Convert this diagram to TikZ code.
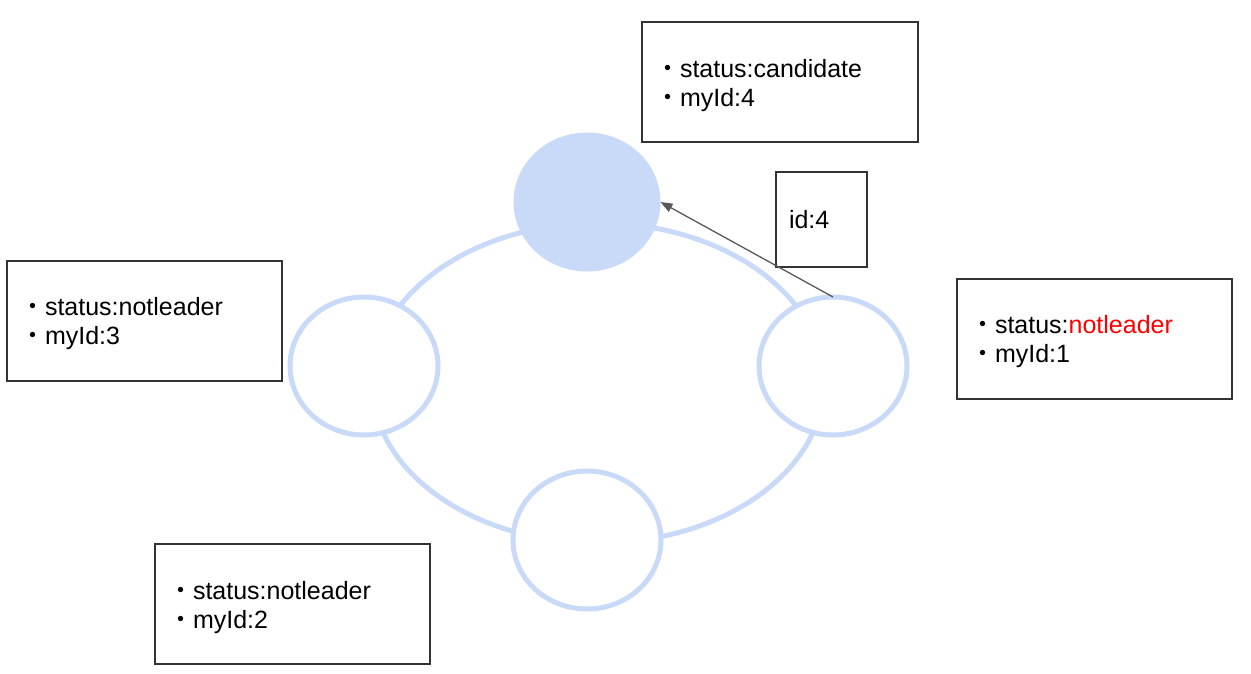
\documentclass[tikz,border=0pt]{standalone}
\usepackage{fontspec}
\setmainfont{Liberation Sans}
\newfontfamily\cjk{Noto Sans CJK JP}
\usetikzlibrary{shapes.geometric,arrows.meta}
\definecolor{ringblue}{HTML}{C9DAF8}
\definecolor{boxline}{HTML}{333333}
\definecolor{arrowgray}{HTML}{595959}
\definecolor{redtext}{HTML}{FF0000}
\newcommand{\bul}{{\cjk ・}}
\tikzset{
  infobox/.style={draw=boxline, line width=1.3pt, rectangle, fill=white, inner sep=0pt, outer sep=0pt},
  ringnode/.style={ellipse, draw=ringblue, line width=5pt, fill=white, inner sep=0pt, outer sep=0pt, minimum width=148pt, minimum height=138pt},
  topnode/.style={ellipse, fill=ringblue, inner sep=0pt, outer sep=0pt, minimum width=147pt, minimum height=139pt},
  txt/.style={anchor=base west, inner sep=0pt, outer sep=0pt, font=\fontsize{25}{29}\selectfont},
  conn/.style={draw=arrowgray, line width=1.3pt, -{Triangle[length=12pt,width=9pt]}}
}
\begin{document}
\begin{tikzpicture}[x=1pt,y=-1pt]
\useasboundingbox (0,0) rectangle (1251,673);
% ring
\draw[ringblue, line width=5pt] (598,383) ellipse [x radius=226, y radius=160];
% circles
\node[topnode] (tc) at (587,202) {};
\node[ringnode] (lc) at (364,366) {};
\node[ringnode] (rc) at (833,366) {};
\node[ringnode] (bc) at (587,540) {};
% boxes
\node[infobox, minimum width=276pt, minimum height=120pt] (tb) at (780,82) {};
\node[infobox, minimum width=91pt, minimum height=95pt] (ib) at (821.5,219.5) {};
\node[infobox, minimum width=275pt, minimum height=120pt] (lb) at (144.5,321) {};
\node[infobox, minimum width=275pt, minimum height=120pt] (rb) at (1094.5,339) {};
\node[infobox, minimum width=275pt, minimum height=120pt] (bb) at (292.5,604) {};
% texts
\node[txt] (tb1) at (655,77) {\bul status:candidate};
\node[txt] (tb2) at (655,106) {\bul myId:4};
\node[txt] (ib1) at (789,228) {id:4};
\node[txt] (lb1) at (20,315) {\bul status:notleader};
\node[txt] (lb2) at (20,344) {\bul myId:3};
\node[txt] (rb1) at (970,333) {\bul status:\textcolor{redtext}{notleader}};
\node[txt] (rb2) at (970,362) {\bul myId:1};
\node[txt] (bb1) at (168,599) {\bul status:notleader};
\node[txt] (bb2) at (168,628) {\bul myId:2};
% arrow
\draw[conn] (rc.north) -- (tc.east);
\end{tikzpicture}
\end{document}
